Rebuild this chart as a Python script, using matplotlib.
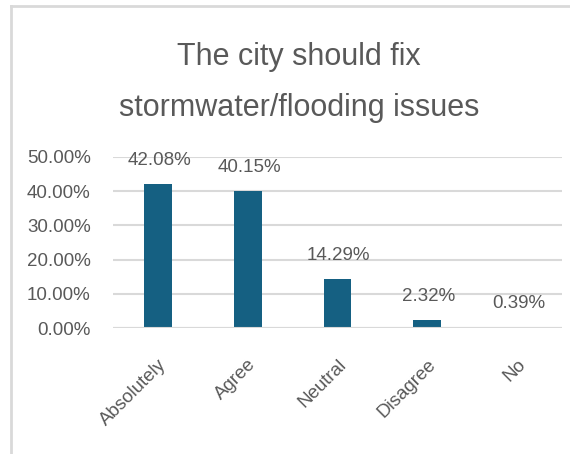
import matplotlib.pyplot as plt
from matplotlib.lines import Line2D
from matplotlib.ticker import FuncFormatter, MultipleLocator

categories = ['Absolutely', 'Agree', 'Neutral', 'Disagree', 'No']
shares = [42.08, 40.15, 14.29, 2.32, 0.39]
title = 'The city should fix\nstormwater/flooding issues'

BAR = '#156082'
TEXT = '#595959'
GRID = '#D9D9D9'

plt.rcParams['font.family'] = ['Liberation Sans', 'DejaVu Sans']

fig = plt.figure(figsize=(5.7, 4.54), dpi=100)
ax = fig.add_axes([0.198, 0.2775, 0.788, 0.3767])

x = range(len(categories))
ax.bar(x, shares, width=0.31, color=BAR, zorder=3)
# axis line sits on top of the bars, hiding the tiny "No" bar like Excel does
ax.axhline(0, color=GRID, linewidth=1.5, zorder=4)

for xi, v in zip(x, shares):
    ax.annotate(f'{v:.2f}%', (xi, v), xytext=(1, 17), textcoords='offset points',
                ha='center', va='center', fontsize=13.5, color=TEXT)

ax.set_xlim(-0.5, len(categories) - 0.5)
ax.set_ylim(0, 50)
ax.yaxis.set_major_locator(MultipleLocator(10))
ax.yaxis.set_major_formatter(FuncFormatter(lambda v, _: f'{v:.2f}%'))
ax.grid(axis='y', color=GRID, linewidth=1.5, zorder=0)

ax.set_xticks(list(x))
ax.set_xticklabels(categories, rotation=45, ha='right', va='top',
                   rotation_mode='anchor')
ax.tick_params(axis='y', length=0, pad=16, labelsize=13.5, labelcolor=TEXT)
ax.tick_params(axis='x', length=0, pad=20, labelsize=13.5, labelcolor=TEXT)
for spine in ax.spines.values():
    spine.set_visible(False)

fig.text(0.525, 0.819, title, ha='center', va='center', fontsize=22,
         color=TEXT, linespacing=1.9)

# outer chart frame
fig.add_artist(Line2D([11 / 570, 1], [1 - 6 / 454, 1 - 6 / 454],
                      transform=fig.transFigure, color=GRID, linewidth=2))
fig.add_artist(Line2D([11 / 570, 11 / 570], [0, 1 - 6 / 454],
                      transform=fig.transFigure, color=GRID, linewidth=2))

fig.savefig('out.png', dpi=100, facecolor='white')
